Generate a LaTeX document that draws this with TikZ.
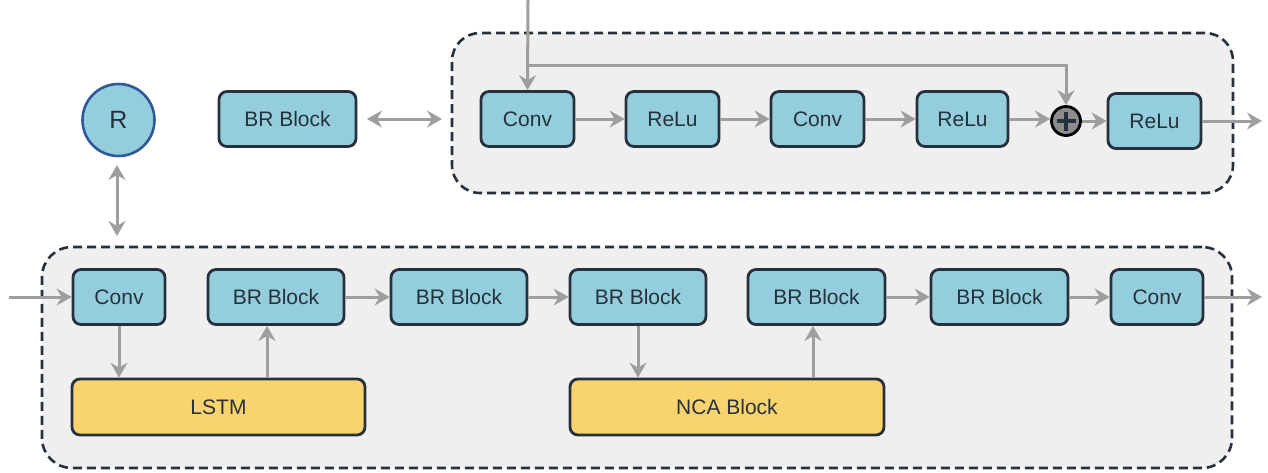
\documentclass[tikz,border=0pt]{standalone}
\usepackage{fontspec}
\setmainfont{Liberation Sans}
\usetikzlibrary{arrows.meta}
\definecolor{bluefill}{HTML}{94CEDC}
\definecolor{yellowfill}{HTML}{F9D46E}
\definecolor{edge}{HTML}{27313D}
\definecolor{txt}{HTML}{27313D}
\definecolor{circedge}{HTML}{30579A}
\definecolor{panel}{HTML}{EFEFEF}
\definecolor{arrgray}{HTML}{9E9E9E}
\definecolor{sumgray}{HTML}{8C8C8C}
\tikzset{
  x=1pt, y=-1pt,
  blk/.style={draw=edge, fill=bluefill, line width=2.8pt, rounded corners=8pt,
    minimum height=55pt, inner sep=0pt, text=txt,
    font=\fontsize{21}{25}\selectfont},
  ylw/.style={blk, fill=yellowfill},
  panelbox/.style={draw=edge, fill=panel, line width=2.6pt, rounded corners=28pt,
    dash pattern=on 9pt off 5pt, inner sep=0pt},
  tip/.tip={Stealth[length=15pt, width=17pt, inset=5pt]},
  arr/.style={draw=arrgray, line width=3pt, -tip},
  darr/.style={draw=arrgray, line width=3pt, tip-tip},
}
\begin{document}
\begin{tikzpicture}
\useasboundingbox (0,0) rectangle (1268,472);

% containers
\node[panelbox, minimum width=781pt, minimum height=160pt] (toppanel) at (842.5,113) {};
\node[panelbox, minimum width=1190pt, minimum height=221pt, rounded corners=30pt] (botpanel) at (637,357.5) {};

% upper row
\node[circle, draw=circedge, fill=bluefill, line width=2.6pt, minimum size=72pt,
  inner sep=0pt, text=txt, font=\fontsize{25}{30}\selectfont] (R) at (118.5,120) {R};
\node[blk, minimum width=137pt] (brtop) at (287.5,119) {BR Block};

\node[blk, minimum width=93pt] (conva) at (527.5,119) {Conv};
\node[blk, minimum width=93pt] (relua) at (672.5,119) {ReLu};
\node[blk, minimum width=93pt] (convb) at (817.5,119) {Conv};
\node[blk, minimum width=91pt] (relub) at (962.5,119) {ReLu};
\node[circle, draw=black, fill=sumgray, line width=2.8pt, minimum size=29pt, inner sep=0pt] (sum) at (1066,121) {};
\draw[edge, line width=3.2pt] ([xshift=-9.5pt]sum.center) -- ([xshift=9.5pt]sum.center)
  ([yshift=-9.5pt]sum.center) -- ([yshift=9.5pt]sum.center);
\node[blk, minimum width=93pt] (reluc) at (1154.5,121) {ReLu};

\coordinate (topin) at (528,0);
\coordinate (split) at (528,65);
\coordinate (topout) at (1262,121);

\draw[arr] (topin) -- (conva.north);
\draw[arr] (split) -| (sum.north);
\draw[arr] (conva) -- (relua);
\draw[arr] (relua) -- (convb);
\draw[arr] (convb) -- (relub);
\draw[arr] (relub.east) -- (relub.east -| sum.west);
\draw[arr] (sum) -- (reluc);
\draw[arr] (reluc) -- (topout);

\coordinate (brl) at (367,119);
\coordinate (brr) at (442,119);
\draw[darr] (brl) -- (brr);

\coordinate (rt) at (117,165);
\coordinate (rb) at (117,236);
\draw[darr] (rt) -- (rb);

% lower row
\node[blk, minimum width=92pt] (convc) at (119,297) {Conv};
\node[blk, minimum width=136pt] (bra) at (276,297) {BR Block};
\node[blk, minimum width=136pt] (brb) at (459,297) {BR Block};
\node[blk, minimum width=136pt] (brc) at (638,297) {BR Block};
\node[blk, minimum width=137pt] (brd) at (816.5,297) {BR Block};
\node[blk, minimum width=137pt] (bre) at (999.5,297) {BR Block};
\node[blk, minimum width=92pt] (convd) at (1157,297) {Conv};

\node[ylw, minimum width=293pt, minimum height=56pt] (lstm) at (218.5,407) {LSTM};
\node[ylw, minimum width=314pt, minimum height=56pt] (nca) at (727,407) {NCA Block};

\coordinate (botin) at (9,297);
\coordinate (botout) at (1262,297);

\draw[arr] (botin) -- (convc);
\draw[arr] (bra) -- (brb);
\draw[arr] (brb) -- (brc);
\draw[arr] (brd) -- (bre);
\draw[arr] (bre) -- (convd);
\draw[arr] (convd) -- (botout);

\draw[arr] (convc.south) -- (convc.south |- lstm.north);
\draw[arr] (lstm.north -| 267,0) -- (bra.south -| 267,0);
\draw[arr] (brc.south) -- (brc.south |- nca.north);
\draw[arr] (nca.north -| 813,0) -- (brd.south -| 813,0);
\end{tikzpicture}
\end{document}
